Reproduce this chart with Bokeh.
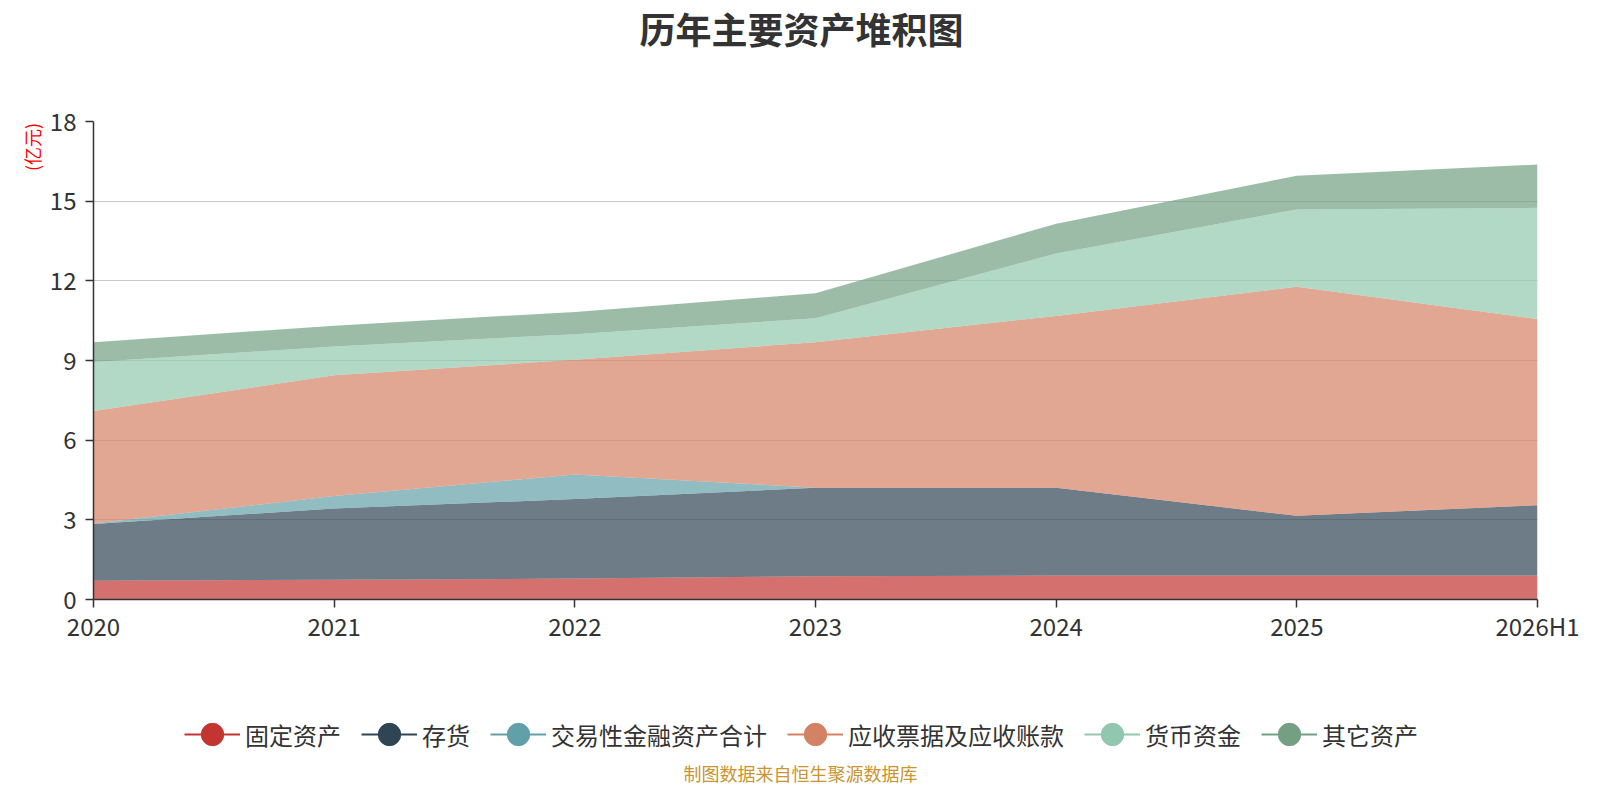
import numpy as np
from bokeh.plotting import figure
from bokeh.layouts import column, row
from bokeh.models import (ColumnDataSource, Range1d, FixedTicker, Legend, LegendItem, Label)
from bokeh.embed import file_html
from bokeh.resources import INLINE

# ---- data (亿元) ----
categories = ["2020", "2021", "2022", "2023", "2024", "2025", "2026H1"]
fixed_assets = [0.71, 0.74, 0.79, 0.88, 0.90, 0.90, 0.90]
inventory = [2.13, 2.69, 2.99, 3.33, 3.31, 2.25, 2.65]
trading_fin = [0.02, 0.47, 0.93, 0.00, 0.00, 0.00, 0.00]
receivables = [4.24, 4.54, 4.32, 5.48, 6.47, 8.63, 7.01]
cash = [1.84, 1.09, 0.96, 0.90, 2.35, 2.91, 4.19]
other_assets = [0.75, 0.78, 0.84, 0.94, 1.12, 1.27, 1.63]

series_names = ["固定资产", "存货", "交易性金融资产合计", "应收票据及应收账款", "货币资金", "其它资产"]
series_keys = ["fixed", "inv", "trade", "recv", "cash", "other"]
colors = ["#c23531", "#2f4554", "#61a0a8", "#d48265", "#91c7ae", "#749f83"]
y_ticks = [0, 3, 6, 9, 12, 15, 18]

FONT = "Noto Sans CJK SC"
TOTAL_W = 1584
TITLE_H = 100
MAIN_H = 545
YLAB_W = 46
BOTTOM_H = 784 - TITLE_H - MAIN_H


def blank_fig(w, h):
    f = figure(width=w, height=h, x_range=Range1d(0, w), y_range=Range1d(0, h),
               x_axis_type=None, y_axis_type=None, output_backend="svg",
               toolbar_location=None, title=None, min_border=0)
    f.outline_line_color = None
    f.xgrid.visible = False
    f.ygrid.visible = False
    f.background_fill_color = "white"
    f.border_fill_color = "white"
    return f


# ---- title ----
title_fig = blank_fig(TOTAL_W, TITLE_H)
title_fig.add_layout(Label(x=801, y=TITLE_H - 27, text="历年主要资产堆积图",
                           text_font=FONT, text_font_size="36px", text_font_style="bold",
                           text_color="#333333", text_align="center",
                           text_baseline="middle"))

# ---- unit label ----
ylab_fig = blank_fig(YLAB_W, MAIN_H)
ylab_fig.add_layout(Label(x=31, y=MAIN_H - 29, text="(亿元)", text_font=FONT,
                          text_font_size="18px", text_color="#ff0000", angle=np.pi / 2,
                          text_align="center", text_baseline="middle"))

# ---- main chart ----
source = ColumnDataSource(dict(
    x=list(range(len(categories))),
    fixed=fixed_assets, inv=inventory, trade=trading_fin,
    recv=receivables, cash=cash, other=other_assets,
))

p = figure(width=TOTAL_W - YLAB_W, height=MAIN_H, x_range=Range1d(0, len(categories) - 1),
           y_range=Range1d(0, 18), output_backend="svg", toolbar_location=None,
           title=None, min_border_left=93 - YLAB_W, min_border_right=47,
           min_border_top=21, min_border_bottom=44)
p.outline_line_color = None
p.background_fill_color = "white"
p.border_fill_color = "white"

p.varea_stack(stackers=series_keys, x="x", color=colors, fill_alpha=0.7, source=source)

p.xaxis.ticker = FixedTicker(ticks=list(range(len(categories))))
p.xaxis.major_label_overrides = {i: c for i, c in enumerate(categories)}
p.yaxis.ticker = FixedTicker(ticks=y_ticks)
for ax in (p.xaxis, p.yaxis):
    ax.axis_line_color = "#333333"
    ax.axis_line_width = 1.5
    ax.major_tick_line_color = "#333333"
    ax.major_tick_line_width = 1.5
    ax.major_tick_out = 8
    ax.major_tick_in = 0
    ax.minor_tick_line_color = None
    ax.major_label_text_font = FONT
    ax.major_label_text_font_size = "24px"
    ax.major_label_text_color = "#333333"
p.xaxis.major_label_standoff = 0
p.yaxis.major_label_standoff = 9

p.xgrid.visible = False
p.ygrid.grid_line_color = "#c8c8c8"
p.ygrid.grid_line_width = 1.2

# ---- legend + footer ----
bottom_fig = blank_fig(TOTAL_W, BOTTOM_H)
items = []
for name, c in zip(series_names, colors):
    lr = bottom_fig.line(x=[np.nan], y=[np.nan], line_color=c, line_width=2)
    sr = bottom_fig.scatter(x=[np.nan], y=[np.nan], size=10, fill_color=c, line_color=c)
    items.append(LegendItem(label=name, renderers=[lr, sr]))
legend = Legend(items=items, orientation="horizontal", location=(184, 20),
                glyph_width=56, glyph_height=60, label_standoff=5, spacing=20,
                padding=0, margin=0, border_line_color=None, background_fill_alpha=0,
                label_text_font=FONT, label_text_font_size="24px",
                label_text_color="#333333")
bottom_fig.add_layout(legend, "center")
bottom_fig.add_layout(Label(x=800, y=12, text="制图数据来自恒生聚源数据库",
                            text_font=FONT, text_font_size="18px", text_color="#c89530",
                            text_align="center", text_baseline="middle"))

layout = column(title_fig, row(ylab_fig, p, spacing=0), bottom_fig, spacing=0)

open("out.html", "w").write(file_html(layout, INLINE))
